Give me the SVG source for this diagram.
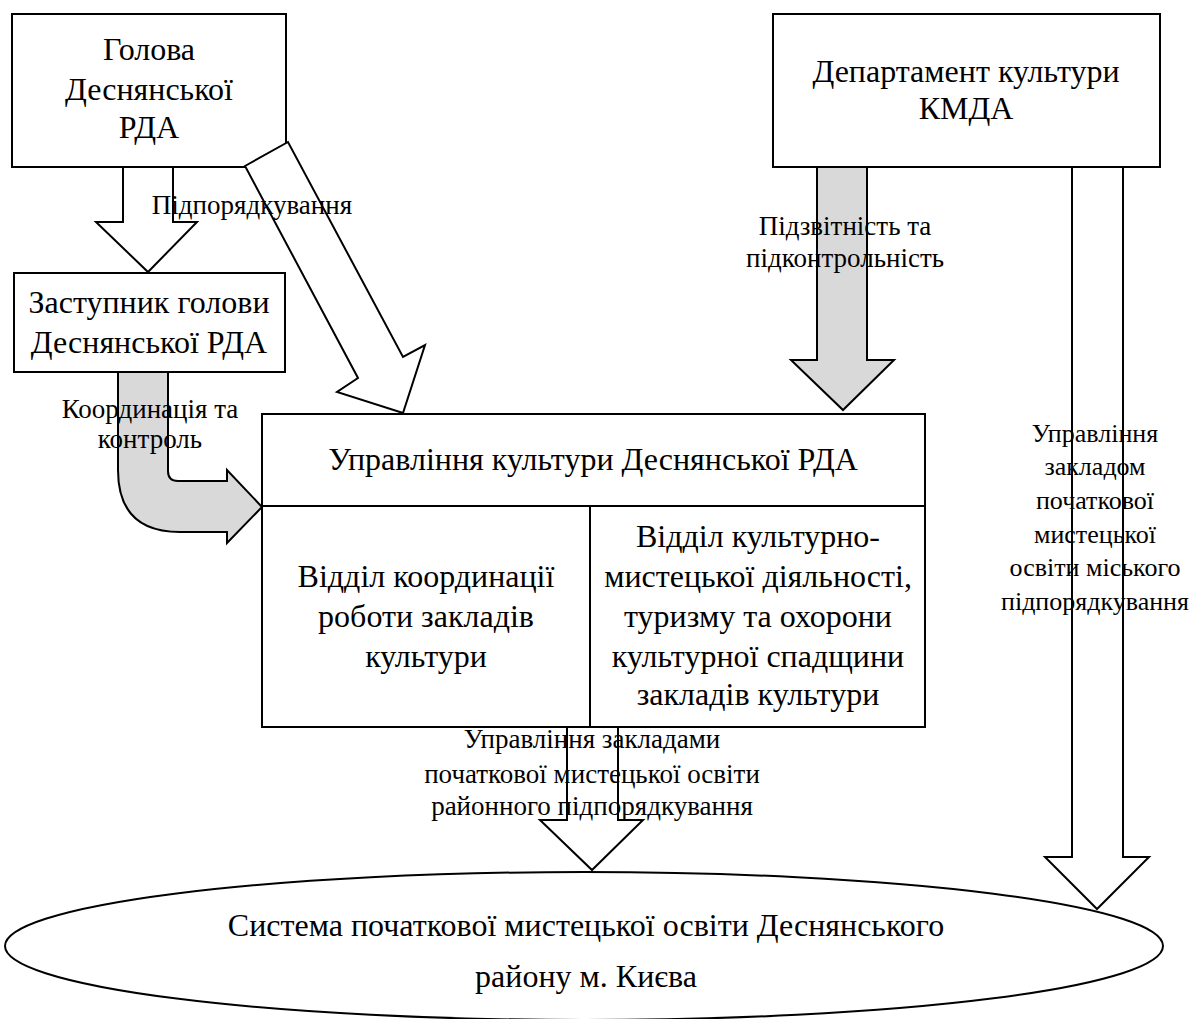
<svg xmlns="http://www.w3.org/2000/svg" width="1192" height="1019" viewBox="0 0 1192 1019">
<style>
.box{fill:#fff;stroke:#000;stroke-width:2}
.arw{fill:#fff;stroke:#000;stroke-width:2;stroke-linejoin:miter}
.garw{fill:#d9d9d9;stroke:#000;stroke-width:2;stroke-linejoin:miter}
.t{font-size:32px;fill:#000;text-anchor:middle}
.s{font-size:27px;fill:#000;text-anchor:middle}
.r{font-size:26px;fill:#000;text-anchor:middle}
</style>
<rect width="1192" height="1019" fill="#fff"/>
<g font-family="Liberation Serif, Times New Roman, serif">
<g id="n-system">
<ellipse class="box" cx="584" cy="946" rx="579" ry="74"/>
<text class="t" x="586" y="936">Система початкової мистецької освіти Деснянського</text>
<text class="t" x="586" y="987">району м. Києва</text>
</g>
<g id="n-head">
<rect class="box" x="12" y="14" width="274" height="153"/>
<text class="t" x="149" y="60">Голова</text>
<text class="t" x="149" y="100">Деснянської</text>
<text class="t" x="149" y="138">РДА</text>
</g>
<g id="n-deputy">
<rect class="box" x="14" y="273" width="271" height="99"/>
<text class="t" x="149" y="313">Заступник голови</text>
<text class="t" x="149" y="353">Деснянської РДА</text>
</g>
<g id="n-dept">
<rect class="box" x="773" y="14" width="387" height="153"/>
<text class="t" x="966" y="82">Департамент культури</text>
<text class="t" x="966" y="119">КМДА</text>
</g>
<g id="n-mgmt">
<rect class="box" x="262" y="414" width="663" height="313"/>
<line x1="262" y1="506" x2="925" y2="506" stroke="#000" stroke-width="2"/>
<line x1="590" y1="506" x2="590" y2="727" stroke="#000" stroke-width="2"/>
<text class="t" x="593" y="470">Управління культури Деснянської РДА</text>
<text class="t" x="426" y="587">Відділ координації</text>
<text class="t" x="426" y="627">роботи закладів</text>
<text class="t" x="426" y="667">культури</text>
<text class="t" x="758" y="547">Відділ культурно-</text>
<text class="t" x="758" y="587">мистецької діяльності,</text>
<text class="t" x="758" y="627">туризму та охорони</text>
<text class="t" x="758" y="667">культурної спадщини</text>
<text class="t" x="758" y="705">закладів культури</text>
</g>
<g id="connectors">
<polygon class="arw" points="123,167 173,167 173,222 197,222 148,272 96,222 123,222"/>
<polygon class="arw" points="245,166 288,142 403,357 425,345 403,413 337,392 358,378"/>
<polygon class="garw" points="817,167 867,167 867,360 894,360 843,410 791,360 817,360"/>
<path class="garw" d="M118,372 L118,470 Q118,532 180,532 L227,532 L227,543 L262,507 L227,470 L227,481 L178,481 Q168,481 168,471 L168,372 Z"/>
<polygon class="arw" points="1072,167 1123,167 1123,857 1149,857 1097,909 1045,857 1072,857"/>
<polygon class="arw" points="567,727 618,727 618,820 643,820 592,870 540,820 567,820"/>
<text class="s" x="252" y="214">Підпорядкування</text>
<text class="s" x="845" y="235">Підзвітність та</text>
<text class="s" x="845" y="267">підконтрольність</text>
<text class="s" x="150" y="418">Координація та</text>
<text class="s" x="150" y="448">контроль</text>
<text class="r" x="1095" y="442">Управління</text>
<text class="r" x="1095" y="475">закладом</text>
<text class="r" x="1095" y="509">початкової</text>
<text class="r" x="1095" y="543">мистецької</text>
<text class="r" x="1095" y="576">освіти міського</text>
<text class="r" x="1095" y="610">підпорядкування</text>
<text class="s" x="592" y="748">Управління закладами</text>
<text class="s" x="592" y="783">початкової мистецької освіти</text>
<text class="s" x="592" y="815">районного підпорядкування</text>
</g>
</g>
</svg>
